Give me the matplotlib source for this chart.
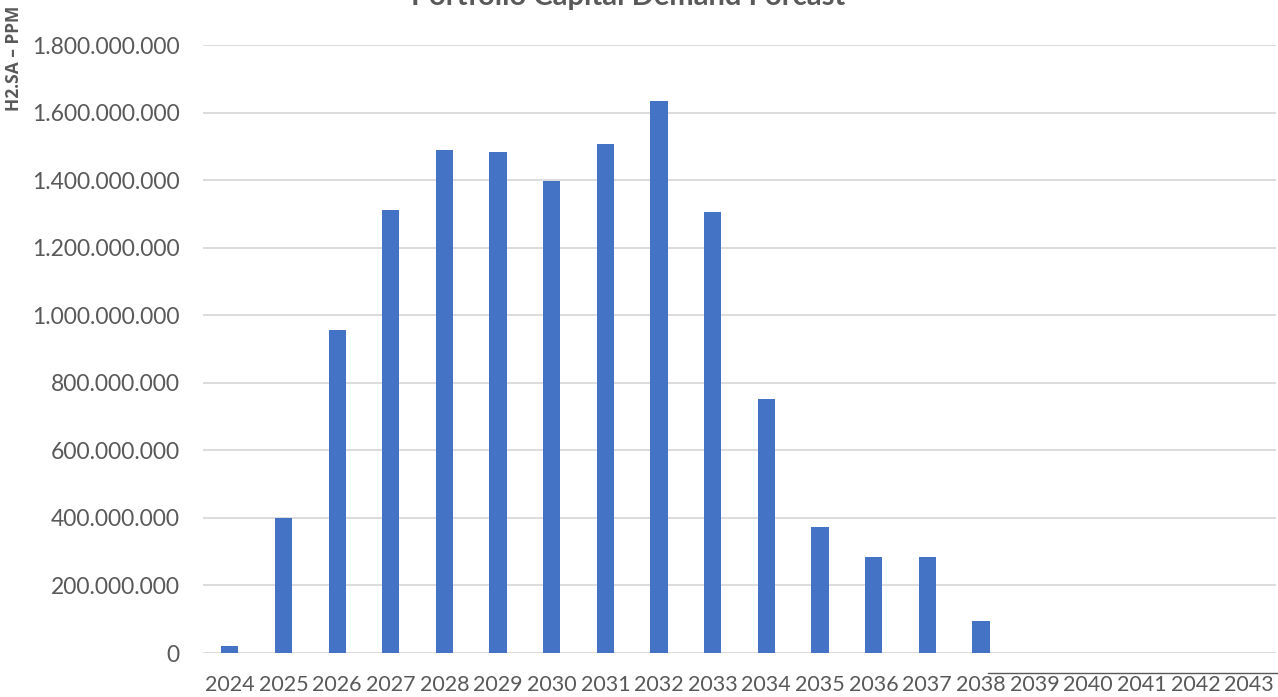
import matplotlib
matplotlib.use("Agg")
import matplotlib.pyplot as plt
from matplotlib.lines import Line2D
from matplotlib.ticker import FuncFormatter

years = [str(y) for y in range(2024, 2044)]
demand = [
    20e6, 400e6, 957e6, 1311e6, 1488e6, 1483e6, 1398e6, 1507e6, 1633e6, 1306e6,
    752e6, 372e6, 284e6, 284e6, 94e6, 0, 0, 0, 0, 0,
]
yticks = [i * 200e6 for i in range(10)]

BAR = "#4472C4"
TXT = "#595959"
GRID = "#D9D9D9"

plt.rcParams["font.family"] = ["Lato", "DejaVu Sans"]

W, H = 1278, 697
fig = plt.figure(figsize=(W / 100, H / 100), dpi=100)
ax = fig.add_axes([203 / W, 1 - 653 / H, (1276 - 203) / W, (653 - 45) / H])

x = list(range(len(years)))
ax.bar(x, demand, width=0.32, color=BAR, zorder=3)

ax.set_xlim(-0.5, len(years) - 0.5)
ax.set_ylim(0, 1.8e9)
ax.set_yticks(yticks)
ax.yaxis.set_major_formatter(FuncFormatter(lambda v, p: f"{int(round(v)):,}".replace(",", ".")))
ax.set_xticks(x)
ax.set_xticklabels(years)

ax.grid(axis="y", color=GRID, linewidth=1.3, zorder=0)
for s in ax.spines.values():
    s.set_visible(False)
ax.tick_params(axis="both", length=0, colors=TXT)
ax.tick_params(axis="y", pad=17, labelsize=16.5)
ax.tick_params(axis="x", pad=16, labelsize=15.5)

# title sits mostly above the canvas
fig.text(628 / W, 1 - 5 / H, "Portfolio Capital Demand Forcast", ha="center",
         va="baseline", fontsize=21, fontweight="bold", color=TXT)
fig.text(14 / W, 1 - 58 / H, "H2.SA – PPM", rotation=90, ha="center", va="center",
         fontsize=12.5, fontweight="bold", color=TXT, family=["Open Sans", "DejaVu Sans"])

# short rule above the last year labels
fig.add_artist(Line2D([988 / W, 1277 / W], [1 - 672.5 / H] * 2, color=TXT,
                      linewidth=1.0, transform=fig.transFigure))

fig.savefig("out.png", dpi=100)
